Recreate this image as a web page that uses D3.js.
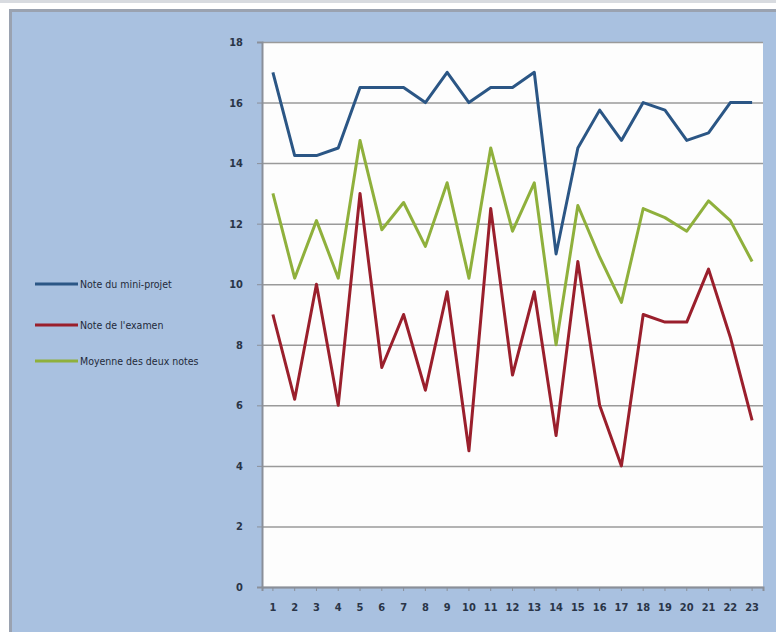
<!DOCTYPE html>
<html lang="fr">
<head>
  <meta charset="UTF-8">
  <title>Notes</title>
  <style>
    body { margin: 0; background: #fff; }
    svg { display: block; }
    text { font-family: "Liberation Sans Narrow", "DejaVu Sans Condensed", "Liberation Sans", sans-serif; fill: #1f2a3a; }
  </style>
</head>
<body>
<svg id="chart" width="776" height="632"></svg>

<script src="https://d3js.org/d3.v7.min.js"></script>
<script>

// data
var eleves = d3.range(1, 24);
var miniProjet = [17, 14.25, 14.25, 14.5, 16.5, 16.5, 16.5, 16, 17, 16, 16.5, 16.5, 17, 11, 14.5, 15.75, 14.75, 16, 15.75, 14.75, 15, 16, 16];
var examen = [9, 6.2, 10, 6, 13, 7.25, 9, 6.5, 9.75, 4.5, 12.5, 7, 9.75, 5, 10.75, 6, 4, 9, 8.75, 8.75, 10.5, 8.25, 5.5];
var moyenne = [13, 10.2, 12.1, 10.2, 14.75, 11.8, 12.7, 11.25, 13.35, 10.2, 14.5, 11.75, 13.35, 8, 12.6, 10.9, 9.4, 12.5, 12.2, 11.75, 12.75, 12.1, 10.75];
var yTicks = [0, 2, 4, 6, 8, 10, 12, 14, 16, 18];

var series = [
  { name: "Note du mini-projet", values: miniProjet, color: "#2b5685" },
  { name: "Note de l'examen", values: examen, color: "#9a1f2c" },
  { name: "Moyenne des deux notes", values: moyenne, color: "#8fb03c" }
];

var svg = d3.select("#chart");

// frame
svg.append("rect").attr("x", 0).attr("y", 0).attr("width", 776).attr("height", 3).attr("fill", "#d8dbe0");
svg.append("rect").attr("x", 9).attr("y", 9).attr("width", 767).attr("height", 623).attr("fill", "#9aa2b0");
svg.append("rect").attr("x", 12).attr("y", 12).attr("width", 764).attr("height", 620).attr("fill", "#a9c1e0");

var margin = { left: 262, right: 13, top: 42, bottom: 45 };
var w = 776 - margin.left - margin.right,
    h = 632 - margin.top - margin.bottom;

var x = d3.scaleBand().domain(eleves).range([0, w]);
var y = d3.scaleLinear().domain([0, 18]).range([h, 0]);

var g = svg.append("g").attr("transform", "translate(" + margin.left + "," + margin.top + ")");

g.append("rect").attr("width", w).attr("height", h).attr("fill", "#fdfdfd");

// gridlines
g.append("g")
  .call(d3.axisLeft(y).tickValues(yTicks).tickSize(-w).tickFormat(""))
  .call(function (s) {
    s.select(".domain").remove();
    s.selectAll("line").attr("stroke", "#9a9a9a").attr("stroke-width", 1.5);
  });

// y axis
g.append("g")
  .call(d3.axisLeft(y).tickValues(yTicks).tickSize(5).tickPadding(14))
  .call(function (s) {
    s.select(".domain").attr("stroke", "#8a8f99").attr("stroke-width", 2);
    s.selectAll("line").attr("stroke", "#8a8f99");
    s.selectAll("text").attr("font-size", 11).attr("font-weight", "bold").style("fill", "#2a3548");
  });

// x axis
g.append("g")
  .attr("transform", "translate(0," + h + ")")
  .call(d3.axisBottom(x).tickSize(4).tickPadding(12))
  .call(function (s) {
    s.select(".domain").attr("stroke", "#8a8f99").attr("stroke-width", 2);
    s.selectAll("line").attr("stroke", "#8a8f99");
    s.selectAll("text").attr("font-size", 11).attr("font-weight", "bold").style("fill", "#2a3548");
  });

var line = d3.line()
  .x(function (d, i) { return x(eleves[i]) + x.bandwidth() / 2; })
  .y(function (d) { return y(d); });

series.forEach(function (s) {
  g.append("path")
    .datum(s.values)
    .attr("fill", "none")
    .attr("stroke", s.color)
    .attr("stroke-width", 3)
    .attr("stroke-linejoin", "round")
    .attr("d", line);
});

// legend
var legend = svg.append("g").attr("transform", "translate(35,284)");
var legendY = [0, 41, 77];
series.forEach(function (s, i) {
  var lg = legend.append("g").attr("transform", "translate(0," + legendY[i] + ")");
  lg.append("line").attr("x1", 0).attr("x2", 43).attr("stroke", s.color).attr("stroke-width", 3);
  lg.append("text").attr("x", 45).attr("dy", "0.35em").attr("font-size", 10.5).text(s.name);
});

</script>
</body>
</html>
